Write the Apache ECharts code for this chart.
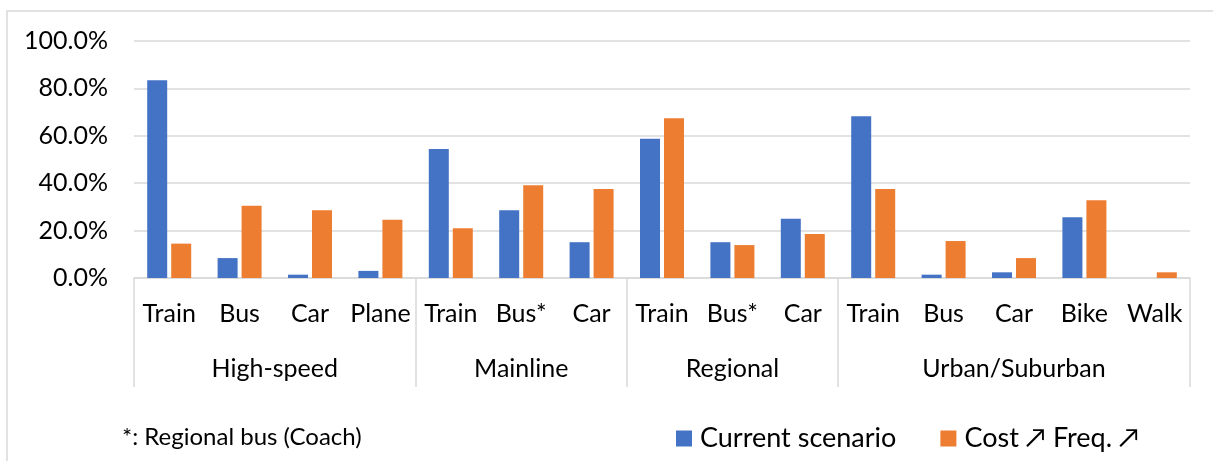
<!DOCTYPE html>
<html lang="en">
<head>
    <meta charset="UTF-8">
    <title>Mode share</title>
    <script src="https://cdn.jsdelivr.net/npm/echarts@6.0.0/dist/echarts.min.js"></script>
    <style>
        html, body { margin: 0; padding: 0; background: #fff; }
        #grafica { width: 1213px; height: 461px; }
    </style>
</head>
<body>
    <div id="grafica"></div>
    <script>
        // datos
        const modos = ['Train', 'Bus', 'Car', 'Plane', 'Train', 'Bus*', 'Car', 'Train', 'Bus*', 'Car', 'Train', 'Bus', 'Car', 'Bike', 'Walk'];
        const grupos = ['High-speed', 'Mainline', 'Regional', 'Urban/Suburban'];
        const tamGrupos = [4, 3, 3, 5];
        const actual = [83.4, 8.4, 1.4, 3.0, 54.4, 28.6, 15.1, 58.8, 15.1, 25.0, 68.2, 1.4, 2.4, 25.6, 0];
        const costeFrec = [14.5, 30.5, 28.6, 24.6, 21.0, 39.1, 37.6, 67.4, 13.9, 18.6, 37.6, 15.6, 8.4, 32.8, 2.4];
        const nombres = ['Current scenario', 'Cost \u2197 Freq. \u2197'];
        const nota = '*: Regional bus (Coach)';

        const fuente = 'Lato, "Open Sans", sans-serif';
        const gris = '#d9d9d9';

        // eje de grupos: medias posiciones, 2*n + 1 puntos
        let slots = [];
        let cortes = [0];
        let centros = {};
        let pos = 0;
        for (let i = 0; i < grupos.length; i++) {
            centros[2 * pos + tamGrupos[i]] = grupos[i];
            pos += tamGrupos[i];
            cortes.push(2 * pos);
        }
        for (let k = 0; k <= 2 * modos.length; k++) {
            slots.push(centros[k] || '');
        }

        let myChart = echarts.init(document.getElementById('grafica'));

        let option = {
            animation: false,
            textStyle: { fontFamily: fuente },
            grid: { left: 134, right: 23, top: 41, bottom: 183, containLabel: false },
            legend: {
                left: 676,
                top: 425,
                padding: 0,
                itemWidth: 16,
                itemHeight: 16,
                itemGap: 44,
                icon: 'rect',
                textStyle: { fontSize: 27, color: '#000', fontFamily: fuente, padding: [0, 0, 0, 3] },
                data: nombres
            },
            xAxis: [
                {
                    type: 'category',
                    data: modos,
                    axisLine: { lineStyle: { color: gris, width: 1.5 } },
                    axisTick: { show: false },
                    axisLabel: { interval: 0, fontSize: 25, color: '#000', margin: 23 }
                },
                {
                    type: 'category',
                    data: slots,
                    boundaryGap: false,
                    position: 'bottom',
                    offset: 0,
                    axisLine: { show: false },
                    axisTick: {
                        show: true,
                        length: 109,
                        interval: (i) => cortes.includes(i),
                        lineStyle: { color: gris, width: 1.5 }
                    },
                    axisLabel: {
                        interval: (i, v) => v !== '',
                        fontSize: 25,
                        color: '#000',
                        margin: 78
                    }
                }
            ],
            yAxis: {
                type: 'value',
                min: 0,
                max: 100,
                interval: 20,
                axisLine: { show: false },
                axisTick: { show: false },
                axisLabel: {
                    fontSize: 25,
                    color: '#000',
                    margin: 26,
                    formatter: (v) => v.toFixed(1) + '%'
                },
                splitLine: { lineStyle: { color: gris, width: 1.5 } }
            },
            series: [
                {
                    name: nombres[0],
                    type: 'bar',
                    data: actual,
                    barWidth: 20,
                    barGap: '20%',
                    itemStyle: { color: '#4472C4' }
                },
                {
                    name: nombres[1],
                    type: 'bar',
                    data: costeFrec,
                    barWidth: 20,
                    itemStyle: { color: '#ED7D31' }
                }
            ],
            graphic: [
                {
                    type: 'rect',
                    shape: { x: 7, y: 11, width: 1400, height: 700 },
                    style: { fill: 'none', stroke: gris, lineWidth: 1.5 },
                    silent: true
                },
                {
                    type: 'text',
                    x: 122,
                    y: 437,
                    style: {
                        text: nota,
                        fontSize: 24,
                        fill: '#000',
                        fontFamily: fuente,
                        verticalAlign: 'middle'
                    }
                }
            ]
        };

        myChart.setOption(option);
    </script>
</body>
</html>
